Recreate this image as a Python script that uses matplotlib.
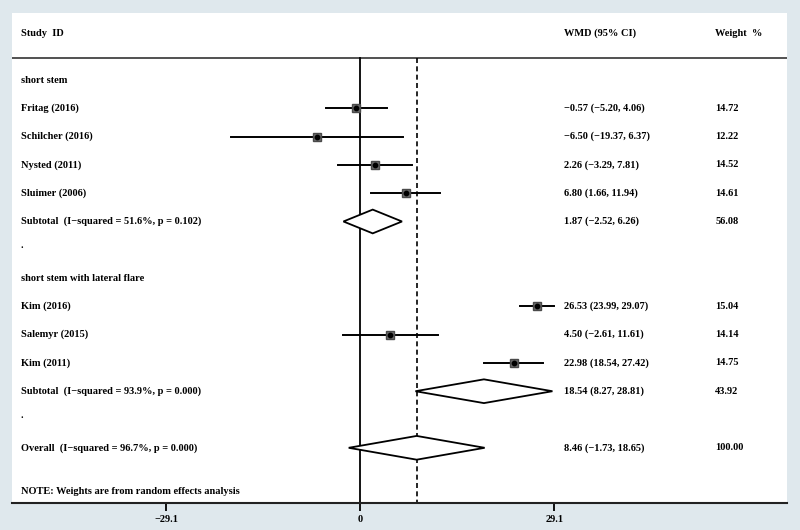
import matplotlib
matplotlib.use("Agg")
import matplotlib.pyplot as plt
import matplotlib.transforms as mtransforms
from matplotlib.patches import Polygon

plt.rcParams['font.family'] = ['Liberation Serif', 'DejaVu Serif']

# study-level data
groups = ["short stem", "short stem with lateral flare"]
group_studies = [
    ["Fritag (2016)", "Schilcher (2016)", "Nysted (2011)", "Sluimer (2006)"],
    ["Kim (2016)", "Salemyr (2015)", "Kim (2011)"],
]
group_wmd = [[-0.57, -6.50, 2.26, 6.80], [26.53, 4.50, 22.98]]
group_lo = [[-5.20, -19.37, -3.29, 1.66], [23.99, -2.61, 18.54]]
group_hi = [[4.06, 6.37, 7.81, 11.94], [29.07, 11.61, 27.42]]
group_weight = [[14.72, 12.22, 14.52, 14.61], [15.04, 14.14, 14.75]]

# subtotals
sub_labels = ["Subtotal  (I\u2212squared = 51.6%, p = 0.102)",
              "Subtotal  (I\u2212squared = 93.9%, p = 0.000)"]
sub_wmd = [1.87, 18.54]
sub_lo = [-2.52, 8.27]
sub_hi = [6.26, 28.81]
sub_weight = [56.08, 43.92]

# overall
overall_label = "Overall  (I\u2212squared = 96.7%, p = 0.000)"
overall_wmd, overall_lo, overall_hi, overall_weight = 8.46, -1.73, 18.65, 100.00

xticks = [-29.1, 0, 29.1]
xtick_labels = ["\u221229.1", "0", "29.1"]


def fmt(v):
    s = f"{v:.2f}"
    return s.replace("-", "\u2212")


def ci_text(m, lo, hi):
    return f"{fmt(m)} ({fmt(lo)}, {fmt(hi)})"


fig = plt.figure(figsize=(8, 5.3), dpi=100)
fig.patch.set_facecolor("#dfe8ed")
ax = fig.add_axes([0.015, 0.051, 0.969, 0.9245])
ax.set_facecolor("white")

# x: pixel 12 -> -52.2, pixel 787 -> 64.0
ax.set_xlim(-52.2, 64.0)
ax.set_ylim(14.95, -2.37)

trans = mtransforms.blended_transform_factory(ax.transAxes, ax.transData)
tkw = dict(transform=trans, va="center", fontsize=7.5, fontweight="bold")
x_lab, x_ci, x_w = 0.0116, 0.712, 0.907

header_y = -1.66
line_y = -0.78
ax.text(x_lab, header_y, "Study  ID", **tkw)
ax.text(x_ci, header_y, "WMD (95% CI)", **tkw)
ax.text(x_w, header_y, "Weight  %", **tkw)
ax.axhline(line_y, color="#333333", lw=1.2)

row = 0
for g in range(len(groups)):
    ax.text(x_lab, row, groups[g], **tkw)
    row += 1
    for name, m, lo, hi, w in zip(group_studies[g], group_wmd[g], group_lo[g],
                                  group_hi[g], group_weight[g]):
        ax.text(x_lab, row, name, **tkw)
        ax.plot([lo, hi], [row, row], color="black", lw=1.4, zorder=3)
        ax.plot(m, row, marker="s", ms=w ** 0.5 * 1.45, color="#6e6e6e",
                mec="#4a4a4a", zorder=4)
        ax.plot(m, row, marker="o", ms=3.2, color="black", zorder=5)
        ax.text(x_ci, row, ci_text(m, lo, hi), **tkw)
        ax.text(x_w, row, f"{w:.2f}", **tkw)
        row += 1
    # subtotal diamond
    ax.text(x_lab, row, sub_labels[g], **tkw)
    d = Polygon([[sub_lo[g], row], [sub_wmd[g], row - 0.42],
                 [sub_hi[g], row], [sub_wmd[g], row + 0.42]],
                closed=True, fc="white", ec="black", lw=1.3, zorder=4)
    ax.add_patch(d)
    ax.text(x_ci, row, ci_text(sub_wmd[g], sub_lo[g], sub_hi[g]), **tkw)
    ax.text(x_w, row, f"{sub_weight[g]:.2f}", **tkw)
    row += 1
    ax.text(x_lab, row - 0.15, ".", **tkw)
    row += 1

ax.text(x_lab, row, overall_label, **tkw)
d = Polygon([[overall_lo, row], [overall_wmd, row - 0.42],
             [overall_hi, row], [overall_wmd, row + 0.42]],
            closed=True, fc="white", ec="black", lw=1.3, zorder=4)
ax.add_patch(d)
ax.text(x_ci, row, ci_text(overall_wmd, overall_lo, overall_hi), **tkw)
ax.text(x_w, row, f"{overall_weight:.2f}", **tkw)
ax.text(x_lab, row + 1.55, "NOTE: Weights are from random effects analysis", **tkw)

# reference lines
ax.plot([0, 0], [line_y, 14.95], color="black", lw=1.3, zorder=2)
ax.plot([overall_wmd, overall_wmd], [line_y, 14.95], color="black", lw=1.2,
        ls=(0, (3, 2)), zorder=2)

for s in ["top", "left", "right"]:
    ax.spines[s].set_visible(False)
ax.spines["bottom"].set_linewidth(1.5)
ax.spines["bottom"].set_color("#222222")
ax.set_yticks([])
ax.set_xticks(xticks)
ax.set_xticklabels(xtick_labels, fontsize=7.5, fontweight="bold")
ax.tick_params(axis="x", direction="out", length=6, width=1.3, pad=3)

fig.savefig("out.png", dpi=100, facecolor=fig.get_facecolor())
